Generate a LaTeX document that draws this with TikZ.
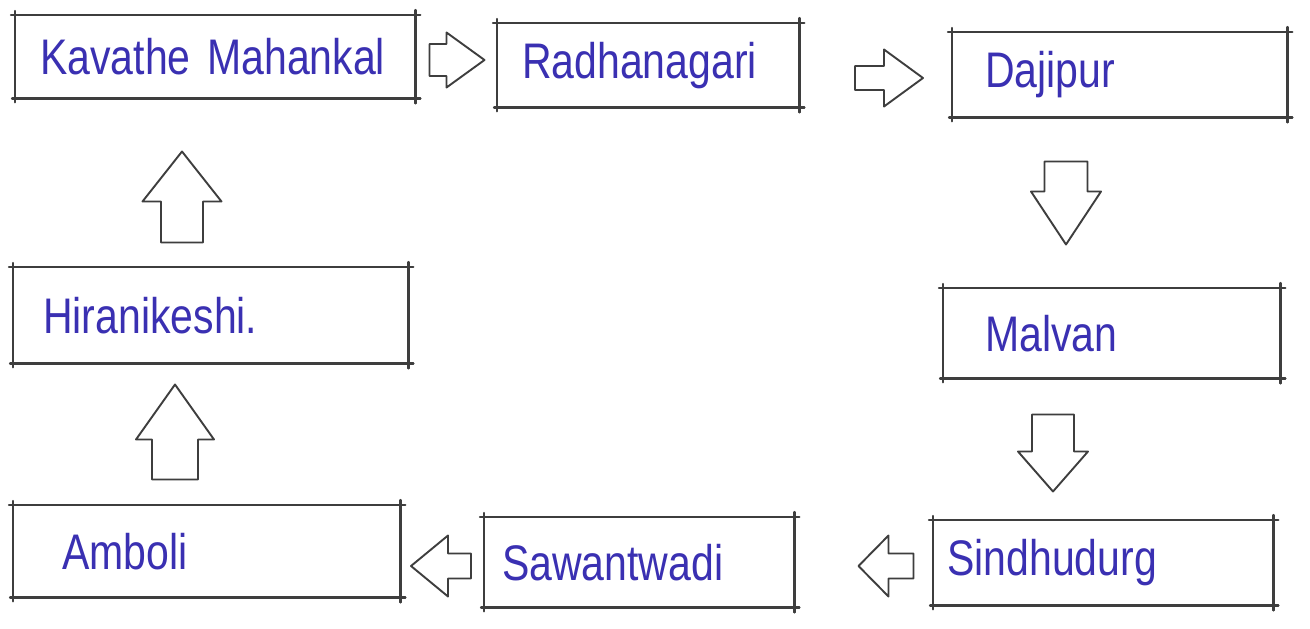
\documentclass[tikz,border=0pt]{standalone}
\usepackage{fontspec}
\setmainfont{Liberation Sans}[FakeStretch=0.82]
\definecolor{pen}{RGB}{58,48,178}
\definecolor{pencil}{RGB}{62,62,62}
\tikzset{
  place/.style={anchor=north west, rectangle, inner ysep=0pt, align=left,
    font=\fontsize{50}{54}\selectfont, text=pen},
  boxline/.style={draw=pencil, line width=2.2pt, line cap=round},
  arrowline/.style={draw=pencil, line width=1.9pt, line join=round},
  pics/barrow/.style n args={4}{code={
    \draw[arrowline] ({-#1/2},{#2/2}) -- ({#1/2-#4},{#2/2}) -- ({#1/2-#4},{#3/2})
      -- ({#1/2},0) -- ({#1/2-#4},{-#3/2}) -- ({#1/2-#4},{-#2/2})
      -- ({-#1/2},{-#2/2}) -- cycle;
  }}
}
\newcommand\sketchbox[1]{%
  \draw[boxline] ([xshift=-4pt]#1.north west) -- ([xshift=5pt]#1.north east);
  \draw[boxline] ([xshift=-3pt]#1.south west) -- ([xshift=5pt]#1.south east);
  \draw[boxline] ([yshift=4pt]#1.north west) -- ([yshift=-4pt]#1.south west);
  \draw[boxline] ([yshift=5pt]#1.north east) -- ([yshift=-5pt]#1.south east);
}
\begin{document}
\begin{tikzpicture}[x=1pt,y=-1pt]
\useasboundingbox[fill=white] (0,0) rectangle (1310,629);
% boxes
\node[place, minimum width=400pt, minimum height=83pt, inner xsep=25pt, text width=350pt] (K) at (15,15) {Kavathe Mahankal};
\node[place, minimum width=302pt, minimum height=84pt, inner xsep=25pt, text width=252pt] (R) at (497,23) {Radhanagari};
\node[place, minimum width=335pt, minimum height=85pt, inner xsep=33pt, text width=269pt] (D) at (952,32) {Dajipur};
\node[place, minimum width=337pt, minimum height=90pt, inner xsep=42pt, text width=253pt] (M) at (943,288) {Malvan};
\node[place, minimum width=340pt, minimum height=85pt, inner xsep=14pt, text width=312pt] (S) at (933,520) {Sindhudurg};
\node[place, minimum width=310pt, minimum height=90pt, inner xsep=18pt, text width=274pt] (W) at (484,517) {Sawantwadi};
\node[place, minimum width=387pt, minimum height=92pt, inner xsep=49pt, text width=289pt] (A) at (13,505) {Amboli};
\node[place, minimum width=395pt, minimum height=96pt, inner xsep=30pt, text width=335pt] (H) at (13,267) {Hiranikeshi.};
\foreach \b in {K,R,D,M,S,W,A,H} {\sketchbox{\b}}
% block arrows
\pic at (457,60) {barrow={55}{32}{55}{38}};
\pic at (889,78) {barrow={68}{24}{57}{39}};
\pic[rotate=-90] at (1066,203) {barrow={83}{43}{70}{53}};
\pic[rotate=-90] at (1053,453) {barrow={77}{42}{70}{40}};
\pic[rotate=180] at (886,566) {barrow={55}{25}{61}{30}};
\pic[rotate=180] at (441,566) {barrow={60}{25}{61}{37}};
\pic[rotate=90] at (175,432) {barrow={95}{46}{78}{55}};
\pic[rotate=90] at (182,197) {barrow={91}{42}{79}{50}};
\end{tikzpicture}
\end{document}
